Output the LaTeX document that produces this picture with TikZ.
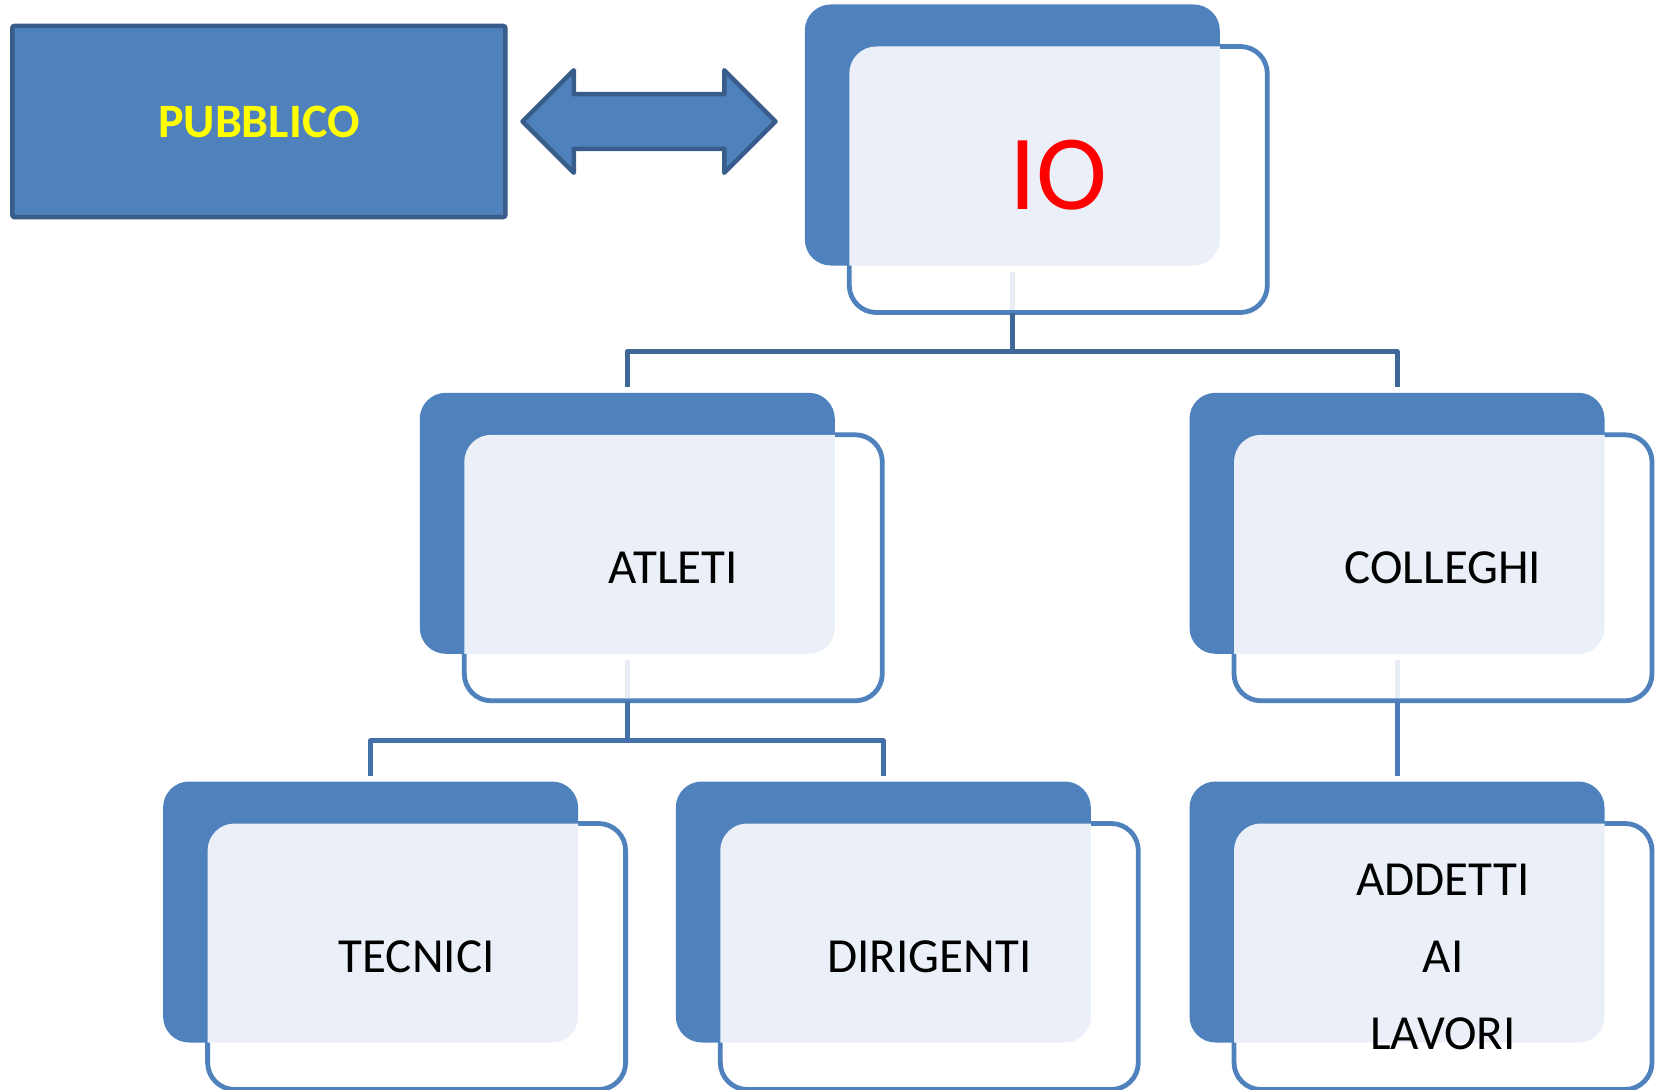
\documentclass[tikz,border=0pt]{standalone}
\usepackage{fontspec}
\setmainfont{Carlito}
\usetikzlibrary{shapes.arrows,calc}

\definecolor{boxblue}{HTML}{4F81BD}
\definecolor{boxedge}{HTML}{385D8A}
\definecolor{panel}{HTML}{EBF0F8}
\definecolor{stubc}{HTML}{E8EDF5}
\definecolor{linktop}{HTML}{3F6797}
\definecolor{linkmid}{HTML}{4571AA}
\definecolor{linkside}{HTML}{4A7BB7}
\definecolor{pubyellow}{HTML}{FFFF00}
\definecolor{iored}{HTML}{FF0000}

\tikzset{
  backbox/.style={rectangle, fill=boxblue, rounded corners=26pt,
    minimum width=415pt, minimum height=261pt, inner sep=0pt, outer sep=0pt},
  frontbox/.style={rectangle, fill=white, draw=boxblue, line width=4.8pt,
    rounded corners=27pt, minimum width=418pt, minimum height=266pt,
    inner sep=0pt, outer sep=0pt},
  boxtext/.style={font=\fontsize{49}{77}\selectfont, text=black,
    align=center, inner sep=0pt},
  stub/.style={draw=stubc, line width=5pt},
  conn/.style={line width=5pt, line join=round},
  pubbox/.style={rectangle, fill=boxblue, draw=boxedge, line width=4.5pt,
    rounded corners=2pt, minimum width=493pt, minimum height=191pt,
    inner sep=0pt, text=pubyellow, font=\fontsize{48}{56}\selectfont\bfseries},
  linkarrow/.style={double arrow, fill=boxblue, draw=boxedge, line width=4.5pt,
    line join=round, minimum height=253pt, minimum width=98pt,
    double arrow head extend=24pt, double arrow tip angle=90,
    inner xsep=0pt, inner ysep=25pt, outer sep=0pt},
}

% a blue card with a framed panel laid over it
% #1 name, #2 x, #3 y of the card centre, #4 text
\newcommand\orgcard[4]{%
  \node[backbox] (#1-b) at (#2,#3) {};
  \node[frontbox] (#1) at ($(#1-b.center)+(46,44.5)$) {};
  \begin{scope}
    \clip[rounded corners=26pt] (#1-b.south west) rectangle (#1-b.north east);
    \fill[panel, rounded corners=27pt] (#1.south west) rectangle (#1.north east);
  \end{scope}
  \coordinate (#1-o) at (#1-b.south |- #1.south);
  \node[boxtext] (#1-t) at (#1.center) {#4};
}

\begin{document}
\begin{tikzpicture}[x=1pt, y=-1pt]
\useasboundingbox (0,0) rectangle (1656,1089);

% audience box and the two-way arrow
\node[pubbox] (pubblico) at (258.8,121.5) {PUBBLICO};
\node[linkarrow] (link) at (649,121.5) {};

% cards
\orgcard{io}{1012.3}{135}{}
\node[font=\fontsize{107}{120}\selectfont, text=iored, inner sep=0pt] (io-label) at ([yshift=4pt]io.center) {IO};
\orgcard{atleti}{627.3}{523.3}{ATLETI}
\orgcard{colleghi}{1397}{523.3}{COLLEGHI}
\orgcard{tecnici}{370.6}{912}{TECNICI}
\orgcard{dirigenti}{883.3}{912}{DIRIGENTI}
\orgcard{addetti}{1397}{912}{ADDETTI\\AI\\LAVORI}

% pale stubs under the parent cards
\foreach \n in {io,atleti,colleghi}{
  \draw[stub] ([yshift=-6pt]\n-b.south) -- ([yshift=2.5pt]\n-o);
}

% tree connectors
\draw[conn, linktop] (io-o) -- ++(0,39) coordinate (io-j);
\draw[conn, linktop] ([yshift=5.5pt]atleti-b.north) |- (io-j) -| ([yshift=5.5pt]colleghi-b.north);

\draw[conn, linkmid] (atleti-o) -- ++(0,40) coordinate (atleti-j);
\draw[conn, linkmid] ([yshift=5.5pt]tecnici-b.north) |- (atleti-j) -| ([yshift=5.5pt]dirigenti-b.north);

\draw[conn, linkside] (colleghi-o) -- ([yshift=5.5pt]addetti-b.north);
\end{tikzpicture}
\end{document}
